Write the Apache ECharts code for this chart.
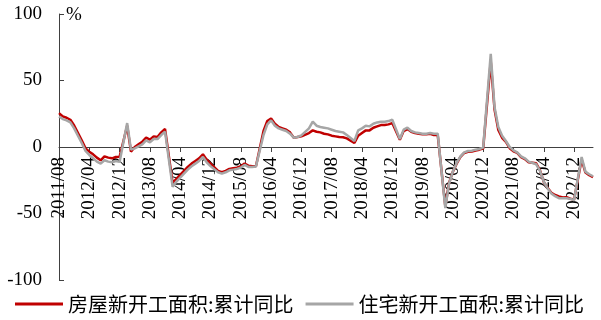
<!DOCTYPE html>
<html>
<head>
<meta charset="utf-8">
<script src="https://cdn.jsdelivr.net/npm/echarts@6/dist/echarts.min.js"></script>
<style>html,body{margin:0;padding:0;background:#fff}#c{width:601px;height:320px}</style>
</head>
<body>
<div id="c"></div>
<script>
// Monthly categories 2011/08 .. 2023/05 (January is not published: null)
const startYear = 2011, startMonth = 8, monthCount = 142;
const categories = [];
for (let k = 0; k < monthCount; k++) {
  const m = (startMonth - 1 + k) % 12 + 1;
  const y = startYear + Math.floor((startMonth - 1 + k) / 12);
  categories.push(y + '/' + (m < 10 ? '0' + m : m));
}
const seriesNames = ['房屋新开工面积:累计同比', '住宅新开工面积:累计同比'];
const yTicks = [-100, -50, 0, 50, 100];

// 房屋新开工面积:累计同比 (%)
const buildingStarts = [
  25.5, 23, 22, 20.5, 16.2,                                  // 2011/08-12
  null, 5, -1, -3.5, -5.5, -8, -10, -7, -8, -8.5, -7.5, -7.3, // 2012
  null, 16, -3.5, 0, 2, 4, 7, 5.5, 8, 7.5, 11, 13.5,          // 2013
  null, -27, -24, -21, -18, -15, -12.5, -10.5, -8.5, -5.5, -9.5, -12.5, // 2014
  null, -18, -19, -18, -16.5, -16, -15.5, -14.5, -12.5, -14, -14.5, -14.5, // 2015
  null, 12, 19.5, 21.5, 17.5, 15, 14, 13, 11, 7, 7.5, 8,      // 2016
  null, 10.5, 12.5, 11.5, 11, 10, 9.5, 8.5, 8, 7.5, 7.3, 6.5, // 2017
  null, 3, 8.5, 10.5, 12.5, 12.5, 14.5, 15.5, 16.5, 16.5, 17, 18, // 2018
  null, 5.5, 12, 13.5, 11.5, 10.5, 10, 9.5, 9.5, 10, 9, 9,    // 2019
  null, -44.5, -27, -18.5, -12.5, -7.5, -4.5, -3.6, -3.4, -2.6, -2, -1.2, // 2020
  null, 64.3, 28.2, 12.8, 6.9, 3.8, -0.9, -3.2, -4.5, -7.7, -9.1, -11.4, // 2021
  null, -12.2, -17.5, -26.3, -30.6, -34.4, -36.1, -37.2, -38, -37.8, -38.9, -39.4, // 2022
  null, -9.4, -19.2, -21.2, -22.6                              // 2023
];
// 住宅新开工面积:累计同比 (%)
const housingStarts = [
  23, 21, 20, 18.5, 14,
  null, 3, -3, -6, -8.5, -11, -12.5, -10, -11, -11.5, -10.5, -11.2,
  null, 18, -2, -1, 0.5, 2, 5, 3.5, 6, 6, 9, 11.6,
  null, -30, -26, -23, -20, -17, -14.5, -12.5, -10.5, -7.5, -11.5, -14.4,
  null, -19, -20, -19, -17.5, -17, -16.5, -15.5, -13.5, -15, -15, -14.6,
  null, 9, 17, 20, 16, 14, 13, 12, 10, 7, 7.5, 8.7,
  null, 14, 19, 16, 15, 14.5, 14, 13, 12, 11.5, 11, 9,
  null, 4.5, 12.5, 14, 16, 15.5, 17.5, 18.5, 19, 19, 19.5, 20.5,
  null, 6, 13, 14.5, 12, 11, 10.5, 10, 10, 10.5, 10, 10,
  null, -46, -27.5, -18.5, -12, -7, -4, -3, -2.8, -2, -1.5, -0.5,
  null, 70, 30, 15, 8.5, 4.5, 0, -2.5, -4, -7, -8.5, -11,
  null, -13, -18, -26, -31, -35, -37, -38.5, -38.5, -38.5, -39, -39.8,
  null, -7.5, -18.5, -20.5, -22
];

const serif = '"Liberation Serif", "Times New Roman", serif';
const cjk = '"Noto Sans CJK SC", sans-serif';
const H = 320, gridTop = 14, gridBottom = 40;
const yMin = yTicks[0], yMax = yTicks[yTicks.length - 1];
// shift the category axis (line, ticks, labels) up to the value 0 position
const zeroOffset = -(H - gridTop - gridBottom) * (0 - yMin) / (yMax - yMin);

const chart = echarts.init(document.getElementById('c'), null, {renderer: 'canvas'});
chart.setOption({
  animation: false,
  backgroundColor: '#fff',
  grid: {left: 59, right: 8, top: gridTop, bottom: gridBottom, containLabel: false, outerBoundsMode: 'none'},
  legend: {
    left: 15, top: 294, padding: 0, itemWidth: 48, itemHeight: 3, itemGap: 12,
    icon: 'rect',
    textStyle: {fontFamily: cjk, fontSize: 20, color: '#000'},
    data: seriesNames
  },
  graphic: [{type: 'text', left: 66, top: 6, style: {text: '%', font: '19px ' + serif, fill: '#000'}}],
  xAxis: {
    type: 'category', data: categories, boundaryGap: false, offset: zeroOffset,
    axisLine: {onZero: false, lineStyle: {color: '#404040', width: 1}},
    axisTick: {show: true, interval: 7, length: 5, lineStyle: {color: '#404040'}},
    axisLabel: {interval: 7, rotate: 90, margin: 10, fontFamily: serif, fontSize: 19, color: '#000'},
    splitLine: {show: false}
  },
  yAxis: {
    type: 'value', min: yMin, max: yMax, interval: 50,
    axisLine: {show: true, lineStyle: {color: '#404040', width: 1}},
    axisTick: {show: true, inside: true, length: 5, lineStyle: {color: '#404040'}},
    axisLabel: {margin: 17, fontFamily: serif, fontSize: 19, color: '#000'},
    splitLine: {show: false}
  },
  series: [
    {name: seriesNames[0], type: 'line', data: buildingStarts, connectNulls: true, showSymbol: false,
     symbol: 'none', lineStyle: {color: '#C00000', width: 2.5}, itemStyle: {color: '#C00000'}},
    {name: seriesNames[1], type: 'line', data: housingStarts, connectNulls: true, showSymbol: false,
     symbol: 'none', lineStyle: {color: '#A6A6A6', width: 2.5}, itemStyle: {color: '#A6A6A6'}}
  ]
});
</script>
</body>
</html>
